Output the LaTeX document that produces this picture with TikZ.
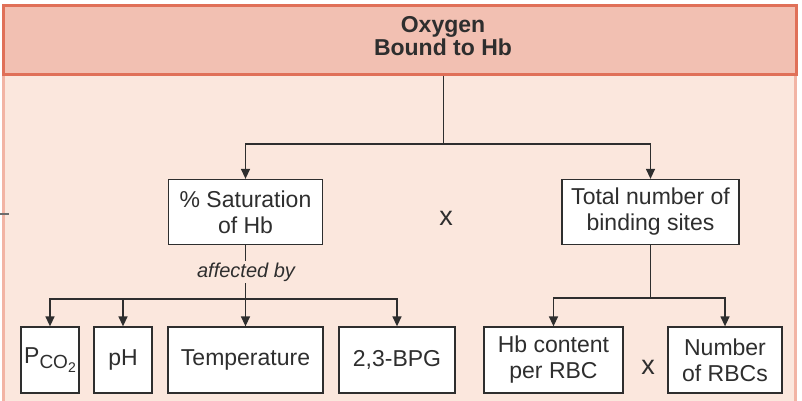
\documentclass[tikz,border=0pt]{standalone}
\usepackage{fontspec}
\setmainfont{Liberation Sans}
\usetikzlibrary{arrows.meta}
\definecolor{headfill}{HTML}{F2C0B2}
\definecolor{headline}{HTML}{E07058}
\definecolor{bodyfill}{HTML}{FBE7DD}
\definecolor{bodyline}{HTML}{F2B4A4}
\definecolor{ink}{HTML}{2E2E2E}
\tikzset{
  box/.style={draw=ink, line width=1.3pt, fill=white, align=center, inner sep=0pt,
    font=\fontsize{23}{26}\selectfont, text=ink},
  conn/.style={draw=ink, line width=1.4pt},
  arr/.style={conn, -{Triangle[length=10pt,width=9pt]}},
  lbl/.style={text=ink, inner sep=1pt}
}
\begin{document}
\begin{tikzpicture}[x=1pt,y=-1pt]
\useasboundingbox (0,0) rectangle (802,400);
% body
\fill[bodyfill] (3,74) rectangle (796,402);
\draw[bodyline, line width=3pt] (3.5,74) -- (3.5,402);
\draw[bodyline, line width=3pt] (795,74) -- (795,402);
\draw[ink!70, line width=1.2pt] (0,214) -- (9,214);
% header
\node[draw=headline, fill=headfill, line width=3pt, minimum width=793pt, minimum height=69pt,
  inner sep=0pt] (head) at (399.5,39.5) {};
\node[lbl, align=center, font=\bfseries\fontsize{23}{23.5}\selectfont] (htext) at (443,36) {Oxygen\\Bound to Hb};
% level 1
\node[box, minimum width=154pt, minimum height=65pt] (sat) at (245.5,212) {\% Saturation\\of Hb};
\node[box, minimum width=177pt, minimum height=65pt] (tot) at (650.5,212) {Total number of\\binding sites};
\node[lbl, font=\fontsize{27}{27}\selectfont] (x1) at (446,218) {x};
% level 2
\node[box, minimum width=58pt, minimum height=66pt] (pco) at (50,360)
  {P\raisebox{-5pt}{\fontsize{19}{19}\selectfont CO\raisebox{-4pt}{\fontsize{14}{14}\selectfont 2}}};
\node[box, minimum width=58pt, minimum height=66pt] (ph) at (123,360) {pH};
\node[box, minimum width=155pt, minimum height=66pt] (temp) at (245.5,360) {Temperature};
\node[box, minimum width=116pt, minimum height=66pt] (bpg) at (397,360) {2,3-BPG};
\node[box, minimum width=139pt, minimum height=66pt] (hbc) at (553.5,360) {Hb content\\per RBC};
\node[box, minimum width=114pt, minimum height=66pt] (nrbc) at (725,360) {Number\\of RBCs};
\node[lbl, font=\fontsize{27}{27}\selectfont] (x2) at (648,367) {x};
% top connectors
\coordinate (t0) at (443.7,144);
\draw[conn] (head.south -| t0) -- (t0);
\draw[arr] (t0) -| (sat.north);
\draw[arr] (t0) -| (tot.north);
% left tree
\coordinate (l0) at (245.5,299);
\draw[conn] (sat.south) -- (l0);
\node[lbl, fill=bodyfill, font=\itshape\fontsize{20}{20}\selectfont, inner sep=2pt] (aff) at (246,272) {affected by};
\draw[arr] (l0) -| (pco.north);
\draw[arr] (l0) -| (ph.north);
\draw[arr] (l0) -- (temp.north);
\draw[arr] (l0) -| (bpg.north);
% right tree
\coordinate (r0) at (650.5,298);
\draw[conn] (tot.south) -- (r0);
\draw[arr] (r0) -| (hbc.north);
\draw[arr] (r0) -| (nrbc.north);
\end{tikzpicture}
\end{document}
